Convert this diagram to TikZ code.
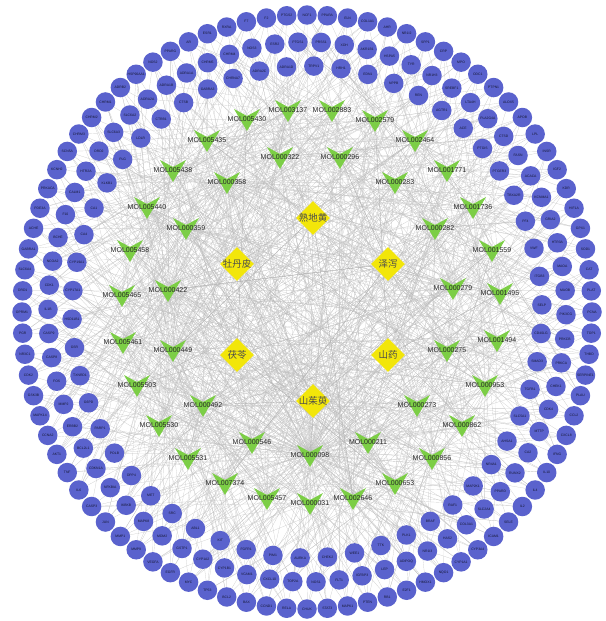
\documentclass[tikz,border=0pt]{standalone}
\usepackage{fontspec}
\setmainfont{Liberation Sans}
\newfontfamily\cjk{Noto Sans CJK SC}
\usetikzlibrary{shapes.geometric}
\pgfdeclarelayer{bg}
\pgfsetlayers{bg,main}
\definecolor{tblue}{RGB}{90,98,205}
\definecolor{vgreen}{RGB}{124,206,70}
\definecolor{hyellow}{RGB}{242,230,10}
\def\ringA{NCF1,PTGS2,F2,F7,RXRA,ESR1,AR,PPARG,NOS2,HSP90AA1,ADRB2,CHRM1,CHRM2,CHRM3,SCN5A,KCNH2,PRKACA,PDE3A,ACHE,GABRA1,SLC6A4,DRD1,OPRM1,PGR,NR3C1,CDK2,GSK3B,MAPK14,CCNA2,AKT1,TNF,IL6,CASP3,JUN,MMP1,MMP9,VEGFA,EGFR,MYC,TP53,BCL2,BAX,CCND1,RELA,CHUK,STAT3,MAPK1,PTEN,RB1,E2F1,HMOX1,NQO1,CYP1A1,CYP3A4,ICAM1,SELE,IL2,IL4,IL10,IFNG,CXCL8,CCL2,PLAU,SERPINE1,THBD,TOP1,PCNA,PLAT,CAT,SOD1,GPX1,HIF1A,KDR,IGF2,INSR,LPL,APOB,ALOX5,PTPN1,ODC1,MPO,CRP,SPP1,NR1I2,AHR,COL1A1,ELN,PPARA}
\def\ringB{PTGS1,ESR2,NOS3,CHRM4,CHRM5,ADRA1A,ADRA1B,ADRA2A,SLC6A2,SLC6A3,DRD2,HTR2A,CALM1,F10,BCHE,NCOA2,CDK1,IL1B,CASP9,CASP8,FOS,MMP2,ERBB2,BCL2L1,CDKN1A,NFKBIA,IKBKB,MAPK8,MDM2,GSTP1,CYP1A2,CYP1B1,VCAM1,CXCL10,TOP2A,NOS1,FLT1,IGFBP3,LEP,ADIPOQ,NR1I3,HAS2,COL3A1,SLC2A4,PPARD,RUNX2,CA2,MTTP,CDK4,CHEK1,PRKCA,PRKCB,PIK3CG,MAOB,MAOA,HTR3A,GRIA2,KCNMA1,ACACA,FASN,CTSD,PLA2G4A,LTA4H,SREBF1,NR1H3,TYR,HSPA5,AKR1B1,XDH,PRSS1}
\def\ringC{ADRA1D,ADRA2C,CHRNA7,GABRA3,CTSB,CTRB1,LDLR,PLG,KLKB1,CA1,CA4,CYP19A1,CYP17A1,HSD11B1,GSR,TXNRD1,G6PD,PARP1,POLB,DPP4,MET,SRC,ABL1,KIT,FGFR1,PIM1,AURKA,CHEK2,WEE1,TTK,PLK1,BRAF,RAF1,MAP2K1,NR4A1,AHSA1,SLC5A1,TGFB1,SMAD3,CD40LG,SELP,ITGB3,VWF,PF4,TBXA2R,PTGER3,PTGIS,ACE,AGTR1,REN,NPPB,EDN1,HRH1,TRPV1}
\tikzset{
  tnode/.style={circle,fill=tblue,draw=none,minimum size=19.5,inner sep=0,
    text=tblue!25!black,font=\fontsize{3.4}{4}\selectfont},
  molpt/.style={circle,inner sep=0,minimum size=0.5},
  mollab/.style={inner sep=0,text=black!85,font=\fontsize{7}{8}\selectfont},
  herb/.style={diamond,fill=hyellow,draw=none,inner sep=0,minimum width=34,minimum height=34},
  herblab/.style={inner sep=0,text=black!70,font=\cjk\fontsize{9.5}{10}\selectfont},
  edge/.style={draw=black!24,line width=0.16pt},
  hedge/.style={draw=black!30,line width=0.18pt}
}
\begin{document}
\begin{tikzpicture}[x=1pt,y=-1pt]
\useasboundingbox (0,0) rectangle (605,621);
\begin{pgfonlayer}{bg}
\fill[white] (0,0) rectangle (605,621);
\end{pgfonlayer}
% ring counts
\foreach \g [count=\n] in \ringA {\xdef\NA{\n}}
\foreach \g [count=\n] in \ringB {\xdef\NB{\n}}
\foreach \g [count=\n] in \ringC {\xdef\NC{\n}}
\pgfmathsetmacro\stA{360/\NA}
\pgfmathsetmacro\stB{360/\NB}
\pgfmathsetmacro\stC{360/\NC}
% target rings
\foreach \g [count=\i] in \ringA {
  \pgfmathsetmacro\ang{90+(\i-1)*\stA}
  \node[tnode] (a\i) at ({307+285*cos(\ang)},{312-297*sin(\ang)}) {\g};
}
\foreach \g [count=\i] in \ringB {
  \pgfmathsetmacro\ang{92+(\i-1)*\stB}
  \node[tnode] (b\i) at ({307+259*cos(\ang)},{312-270*sin(\ang)}) {\g};
}
\foreach \g [count=\i] in \ringC {
  \pgfmathsetmacro\ang{95+(\i-1)*\stC}
  \node[tnode] (c\i) at ({307+235*cos(\ang)},{312-246*sin(\ang)}) {\g};
}
% compounds
\foreach \x/\y/\l [count=\i] in {
 288/110/MOL003137, 332/110/MOL002883, 247/119/MOL005430, 375/120/MOL002579,
 207/140/MOL005435, 415/140/MOL002464, 280/157/MOL000322, 340/157/MOL000296,
 173/170/MOL005438, 447/170/MOL001771, 227/182/MOL000358, 395/182/MOL000283,
 147/207/MOL005440, 473/207/MOL001736, 186/228/MOL000359, 435/228/MOL000282,
 130/250/MOL005458, 492/250/MOL001559, 122/295/MOL005465, 168/290/MOL000422,
 453/288/MOL000279, 500/293/MOL001495, 123/342/MOL005461, 173/350/MOL000449,
 447/350/MOL000275, 497/340/MOL001494, 137/385/MOL005503, 485/385/MOL000953,
 203/405/MOL000492, 417/405/MOL000273, 159/425/MOL005530, 462/425/MOL000862,
 252/442/MOL000546, 368/442/MOL000211, 310/455/MOL000098, 188/458/MOL005531,
 432/458/MOL000856, 225/483/MOL007374, 395/483/MOL000653, 267/498/MOL005457,
 310/503/MOL000031, 353/498/MOL002646} {
  \node[molpt] (m\i) at (\x,\y) {};
  \fill[vgreen] (\x,\y) ++(-13,-10) -- ++(13,7) -- ++(13,-7) -- ++(-13,22) -- cycle;
  \node[mollab] (ml\i) at (\x,\y) {\l};
}
% herbs
\foreach \x/\y/\l [count=\i] in {313/218/熟地黄, 237/264/牡丹皮, 388/264/泽泻,
  237/355/茯苓, 388/355/山药, 313/401/山茱萸} {
  \node[herb] (h\i) at (\x,\y) {};
  \node[herblab] (hl\i) at (\x,\y) {\l};
}
% edges
\begin{pgfonlayer}{bg}
\pgfmathsetseed{7}
\foreach \i in {1,...,\NA} {
  \pgfmathrandominteger{\ra}{1}{42}\draw[edge] (a\i) -- (m\ra);
  \pgfmathrandominteger{\rb}{1}{42}\draw[edge] (a\i) -- (m\rb);
  \pgfmathrandominteger{\rc}{1}{42}\draw[edge] (a\i) -- (m\rc);
  \pgfmathrandominteger{\rd}{1}{42}\draw[edge] (a\i) -- (m\rd);
  \ifodd\i \draw[edge] (a\i) -- (m35); \else \draw[edge] (a\i) -- (m20); \fi
}
\foreach \i in {1,...,\NB} {
  \pgfmathrandominteger{\ra}{1}{42}\draw[edge] (b\i) -- (m\ra);
  \pgfmathrandominteger{\rb}{1}{42}\draw[edge] (b\i) -- (m\rb);
  \pgfmathrandominteger{\rc}{1}{42}\draw[edge] (b\i) -- (m\rc);
  \pgfmathrandominteger{\rd}{1}{42}\draw[edge] (b\i) -- (m\rd);
  \ifodd\i \draw[edge] (b\i) -- (m35); \else \draw[edge] (b\i) -- (m11); \fi
}
\foreach \i in {1,...,\NC} {
  \pgfmathrandominteger{\ra}{1}{42}\draw[edge] (c\i) -- (m\ra);
  \pgfmathrandominteger{\rb}{1}{42}\draw[edge] (c\i) -- (m\rb);
  \pgfmathrandominteger{\rc}{1}{42}\draw[edge] (c\i) -- (m\rc);
  \pgfmathrandominteger{\rd}{1}{42}\draw[edge] (c\i) -- (m\rd);
  \ifodd\i \draw[edge] (c\i) -- (m35); \else \draw[edge] (c\i) -- (m24); \fi
}
\foreach \j in {1,...,42} {
  \pgfmathtruncatemacro\hh{mod(\j,6)+1}
  \draw[hedge] (h\hh) -- (m\j);
  \pgfmathrandominteger{\hr}{1}{6}
  \draw[hedge] (h\hr) -- (m\j);
}
\end{pgfonlayer}
\end{tikzpicture}
\end{document}
